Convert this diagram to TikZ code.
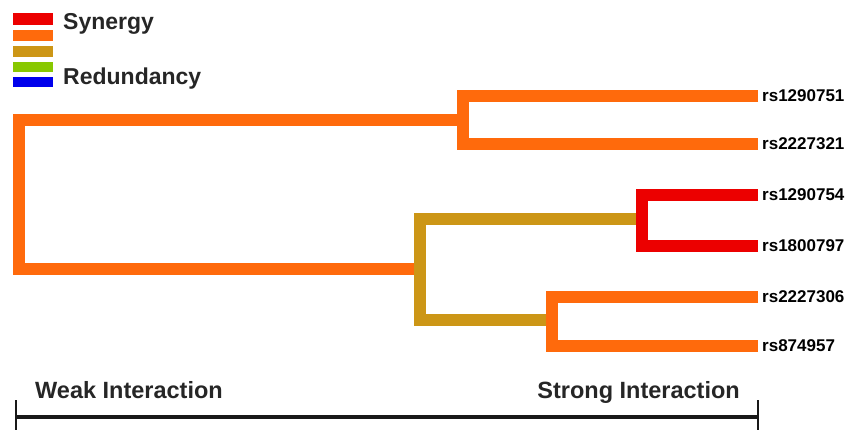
\documentclass[tikz,border=0pt]{standalone}
\usepackage{fontspec}
\setmainfont{Liberation Sans}
\begin{document}
\begin{tikzpicture}[x=1pt,y=-1pt,
  branch/.style={line width=11.5pt,line join=miter,line cap=butt},
  leaflabel/.style={anchor=west,inner sep=0pt,font=\fontsize{17}{17}\selectfont\bfseries},
  legendtext/.style={anchor=base west,inner sep=0pt,font=\fontsize{23}{23}\selectfont\bfseries,text=black!85},
  scaletext/.style={anchor=base west,inner sep=0pt,font=\fontsize{23.5}{23.5}\selectfont\bfseries,text=black!85}]
\definecolor{synred}{RGB}{236,0,0}
\definecolor{synorange}{RGB}{255,106,12}
\definecolor{midgold}{RGB}{204,150,22}
\definecolor{redgreen}{RGB}{136,200,0}
\definecolor{redblue}{RGB}{0,0,236}
\useasboundingbox (0,0) rectangle (850,430);

% legend
\fill[synred]    (13,13) rectangle (53,25);
\fill[synorange] (13,30) rectangle (53,41);
\fill[midgold]   (13,46) rectangle (53,57);
\fill[redgreen]  (13,62) rectangle (53,72);
\fill[redblue]   (13,77) rectangle (53,87);
\node[legendtext] (syn) at (63,30) {Synergy};
\node[legendtext] (red) at (63,85) {Redundancy};

% leaf labels
\node[leaflabel] (l1) at (762,96)  {rs1290751};
\node[leaflabel] (l2) at (762,144) {rs2227321};
\node[leaflabel] (l3) at (762,195) {rs1290754};
\node[leaflabel] (l4) at (762,246) {rs1800797};
\node[leaflabel] (l5) at (762,297) {rs2227306};
\node[leaflabel] (l6) at (762,346) {rs874957};

% joints of the tree
\coordinate (jA) at (463,120);
\coordinate (root) at (19,120);
\coordinate (jB) at (420,269);
\coordinate (jC) at (642,219);
\coordinate (jD) at (552,320);

% root link and the outer branch
\draw[branch,synorange] (jA) -- (root) -- (19,269) -- ([xshift=-3pt]jB);
% top pair
\draw[branch,synorange] ([xshift=-4pt]l1.west) -- (463,96) -- (463,144) -- ([xshift=-4pt]l2.west);
% middle link
\draw[branch,midgold] ([xshift=-5pt]jC) -- (420,219) -- (420,320) -- (jD);
% red pair
\draw[branch,synred] ([xshift=-4pt]l3.west) -- (642,195) -- (642,246) -- ([xshift=-4pt]l4.west);
% lower pair
\draw[branch,synorange] ([xshift=-4pt]l5.west) -- (552,297) -- (552,346) -- ([xshift=-4pt]l6.west);

% interaction scale
\node[scaletext] (weak) at (35,398) {Weak Interaction};
\node[scaletext,anchor=base east] (strong) at (740,398) {Strong Interaction};
\coordinate (sL) at (16,417);
\coordinate (sR) at (758,417);
\draw[line width=3.5pt,black!90] (sL) -- (sR);
\draw[line width=2.5pt,black!90] (16,400) -- (16,430);
\draw[line width=2.5pt,black!90] (758,400) -- (758,430);
\end{tikzpicture}
\end{document}
